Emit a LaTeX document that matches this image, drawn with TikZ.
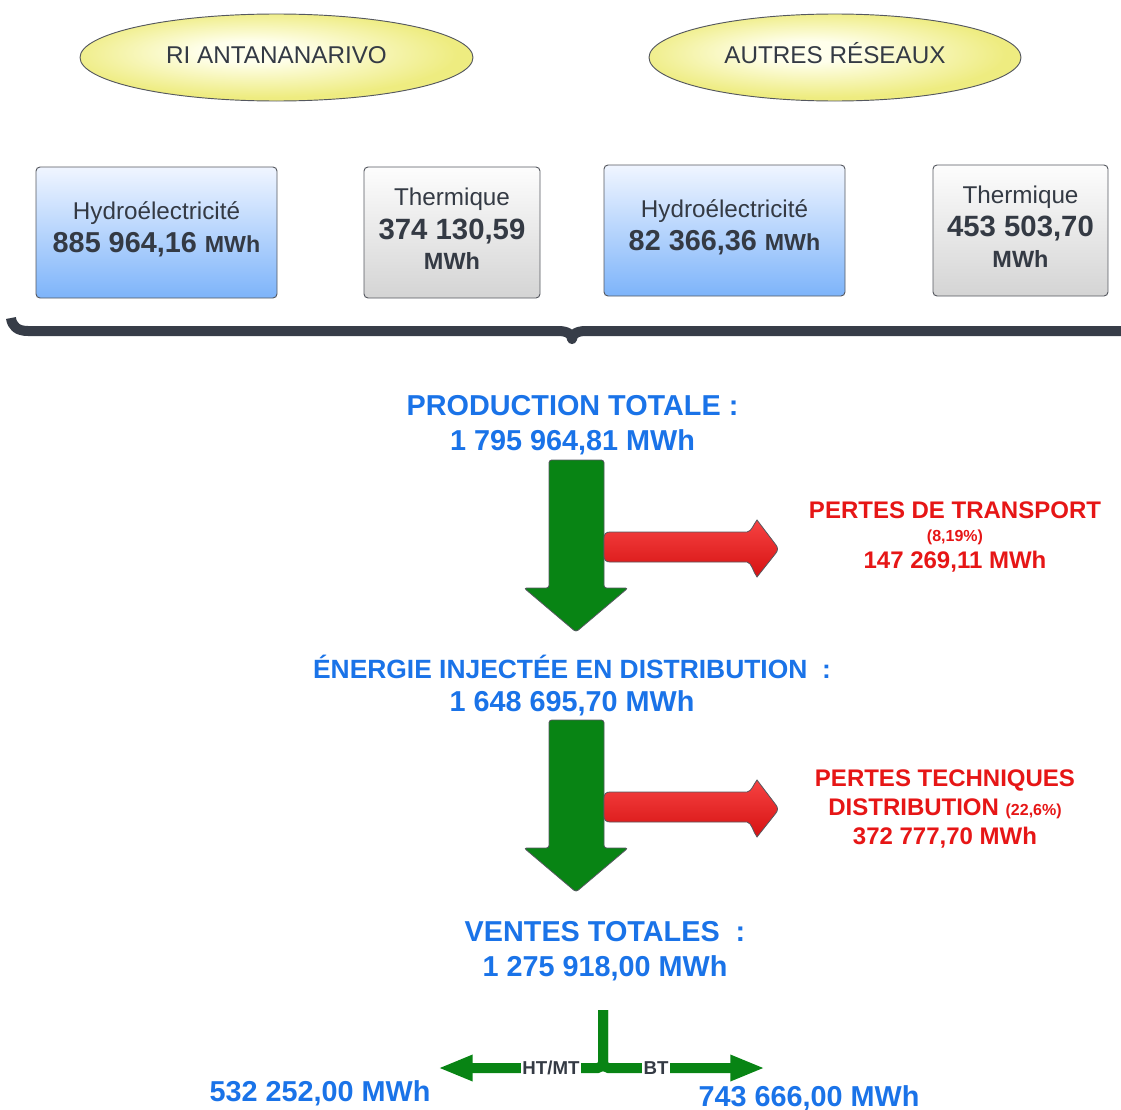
\documentclass[tikz,border=0pt]{standalone}
\usepackage{fontspec}
\setmainfont{Liberation Sans}
\usetikzlibrary{shapes.geometric,arrows.meta}
\newcommand{\fsz}[1]{\fontsize{#1}{#1}\selectfont}
\definecolor{tdark}{RGB}{52,58,68}
\definecolor{tblue}{RGB}{26,115,232}
\definecolor{tred}{RGB}{230,22,22}
\definecolor{agreen}{RGB}{8,132,20}
\definecolor{ellin}{RGB}{255,255,236}
\definecolor{ellout}{RGB}{238,236,128}
\definecolor{hydtop}{RGB}{240,245,255}
\definecolor{hydbot}{RGB}{125,180,250}
\definecolor{thtop}{RGB}{253,253,253}
\definecolor{thbot}{RGB}{212,212,212}
\definecolor{redtop}{RGB}{246,66,66}
\definecolor{redbot}{RGB}{214,18,18}
\definecolor{edge}{RGB}{85,88,95}
\definecolor{bracec}{RGB}{55,61,72}
\pgfdeclareradialshading{regionshade}{\pgfpoint{-4bp}{4bp}}{%
  color(0bp)=(ellin); color(6bp)=(ellin); color(25bp)=(ellout); color(50bp)=(ellout)}
\begin{document}
\begin{tikzpicture}[x=0.75pt,y=-0.75pt,
  region/.style={ellipse, draw=edge, line width=0.7pt, shading=regionshade,
    minimum height=65.25pt, inner sep=0pt},
  srcbox/.style={rectangle, rounded corners=3pt, draw=edge, line width=0.7pt,
    minimum height=98.25pt, inner sep=0pt},
  hydro/.style={srcbox, top color=hydtop, bottom color=hydbot},
  therm/.style={srcbox, top color=thtop, bottom color=thbot},
  txt/.style={anchor=base, inner sep=0pt, text=tdark},
  plain/.style={txt, font=\fsz{18.2pt}},
  val/.style={txt, font=\bfseries},
  bluet/.style={anchor=base, inner sep=0pt, text=tblue, font=\bfseries\fsz{21.6pt}},
  redt/.style={anchor=base, inner sep=0pt, text=tred, font=\bfseries\fsz{18pt}},
  garrow/.style={fill=agreen, draw=edge, line width=0.6pt, rounded corners=2pt},
  rarrow/.style={top color=redtop, bottom color=redbot, draw=edge, line width=0.6pt},
  gline/.style={draw=agreen, line width=7.5pt},
  branch/.style={anchor=center, fill=white, inner sep=0.8pt, text=tdark,
    font=\bfseries\fsz{14pt}}
]
\useasboundingbox (0,0) rectangle (1121,1110);

% network headers
\node[region, minimum width=294.75pt] (ri) at (276.5,57.5) {};
\node[region, minimum width=279pt] (autres) at (835,57.5) {};
\node[plain] (rit) at (276.5,63) {RI ANTANANARIVO};
\node[plain] (autrest) at (835,63) {AUTRES RÉSEAUX};

% production sources
\node[hydro, minimum width=180.75pt] (h1) at (156.5,232.5) {};
\node[therm, minimum width=132pt] (t1) at (452,232.5) {};
\node[hydro, minimum width=180.75pt] (h2) at (724.5,230.5) {};
\node[therm, minimum width=131.25pt] (t2) at (1020.5,230.5) {};

\node[plain] (h1a) at (156.5,219) {Hydroélectricité};
\node[val] (h1b) at (156.5,252) {\fsz{21.6pt}885 964,16 {\fsz{17.4pt}MWh}};
\node[plain] (t1a) at (452,205) {Thermique};
\node[val] (t1b) at (452,239) {\fsz{22pt}374 130,59};
\node[val] (t1c) at (452,269) {\fsz{17.6pt}MWh};
\node[plain] (h2a) at (724.5,217) {Hydroélectricité};
\node[val] (h2b) at (724.5,250) {\fsz{21.6pt}82 366,36 {\fsz{17.4pt}MWh}};
\node[plain] (t2a) at (1020.5,203) {Thermique};
\node[val] (t2b) at (1020.5,236) {\fsz{22pt}453 503,70};
\node[val] (t2c) at (1020.5,267) {\fsz{17.6pt}MWh};

% brace gathering the sources
\draw[bracec, line width=7.5pt, line join=round]
  (11,318) .. controls (12,326) and (17,331) .. (28,331)
  -- (558,331) .. controls (567,331) and (572,334) .. (572,339)
  .. controls (572,334) and (577,331) .. (586,331) -- (1135,331);

% totals
\node[bluet] (prod) at (572.5,415) {PRODUCTION TOTALE :};
\node[bluet] (prodv) at (572.5,450) {1 795 964,81 MWh};
\node[bluet, font=\bfseries\fsz{19.8pt}] (inj) at (572,678) {ÉNERGIE INJECTÉE EN DISTRIBUTION\ \ :};
\node[bluet] (injv) at (572,711) {1 648 695,70 MWh};
\node[bluet] (vent) at (605,941) {VENTES TOTALES\ \ :};
\node[bluet] (ventv) at (605,976) {1 275 918,00 MWh};

% losses
\node[redt] (pt) at (955,518) {PERTES DE TRANSPORT};
\node[redt, font=\bfseries\fsz{12pt}] (ptp) at (955,541) {(8,19\%)};
\node[redt] (ptv) at (955,568) {147 269,11 MWh};
\node[redt] (pd) at (945,786) {PERTES TECHNIQUES};
\node[redt] (pdp) at (945,815) {DISTRIBUTION {\fsz{12pt}(22,6\%)}};
\node[redt] (pdv) at (945,844) {372 777,70 MWh};

% flow arrows
\foreach \dy in {0,260}{
  \draw[garrow] (549,{460+\dy}) -- (604,{460+\dy}) -- (604,{588+\dy}) -- (628,{588+\dy})
    -- (576,{632+\dy}) -- (524,{588+\dy}) -- (549,{588+\dy}) -- cycle;
  \shadedraw[rarrow] (610,{532+\dy}) -- (747,{532+\dy})
    .. controls (752,{531+\dy}) and (753,{525+\dy}) .. (757,{520+\dy})
    -- (776,{545+\dy}) .. controls (778,{548+\dy}) and (778,{550+\dy}) .. (776,{553+\dy})
    -- (757,{577+\dy}) .. controls (753,{572+\dy}) and (752,{563+\dy}) .. (747,{562+\dy})
    -- (610,{562+\dy}) .. controls (606,{562+\dy}) and (604,{560+\dy}) .. (604,{556+\dy})
    -- (604,{538+\dy}) .. controls (604,{534+\dy}) and (606,{532+\dy}) .. (610,{532+\dy}) -- cycle;
}

% split of sales
\coordinate (stem) at (603,1010);
\coordinate (split) at (603,1068);
\coordinate (htend) at (438,1068);
\coordinate (btend) at (765,1068);
\draw[gline, rounded corners=4pt, -{Triangle[length=26pt,width=18pt]}] (stem) -- (split) -- (htend);
\draw[gline, rounded corners=4pt, -{Triangle[length=26pt,width=18pt]}] (stem) -- (split) -- (btend);
\node[branch] (htmt) at (551,1068) {HT/MT};
\node[branch] (btl) at (656,1068) {BT};

\node[bluet] (htv) at (320,1101) {532 252,00 MWh};
\node[bluet] (btv) at (809,1106) {743 666,00 MWh};
\end{tikzpicture}
\end{document}
